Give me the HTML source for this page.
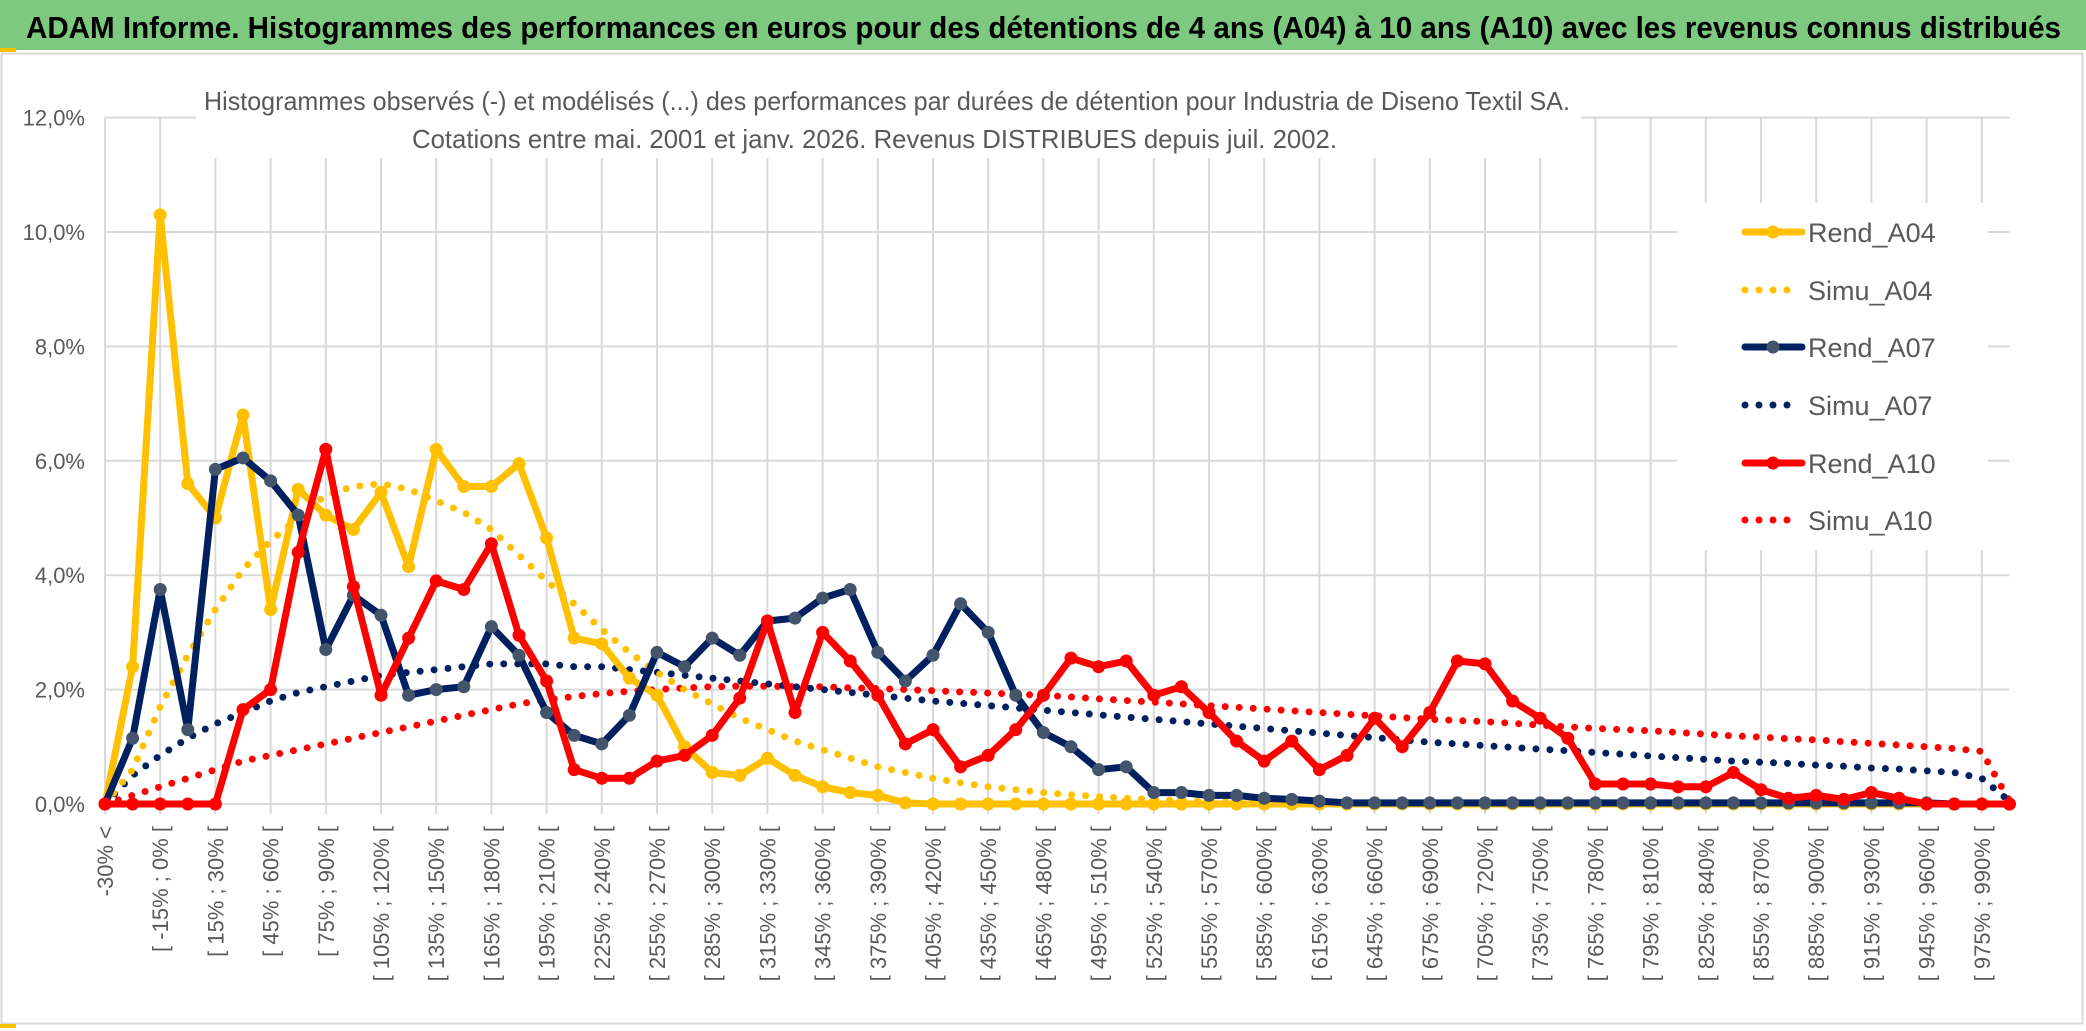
<!DOCTYPE html>
<html><head><meta charset="utf-8">
<style>
html,body{margin:0;padding:0;background:#fff;}
svg{display:block;font-family:"Liberation Sans",sans-serif;}
</style></head>
<body>
<svg id="chart" width="2086" height="1031" xmlns="http://www.w3.org/2000/svg">
  <rect x="0" y="0" width="2086" height="1031" fill="#fff"/>
  <rect x="0" y="0" width="2086" height="50" fill="#7DC97F"/>
  <rect x="0" y="48" width="16" height="4" fill="#FFC000"/>
  <text x="26" y="38" font-size="31" font-weight="bold" fill="#000" textLength="2035" lengthAdjust="spacingAndGlyphs">ADAM Informe. Histogrammes des performances en euros pour des détentions de 4 ans (A04) à 10 ans (A10) avec les revenus connus distribués</text>
  <rect x="1.5" y="53.5" width="2081" height="970" fill="none" stroke="#d9d9d9" stroke-width="2"/>
  <rect x="0" y="1024" width="16" height="4" fill="#FFC000"/>
  <g id="grid"></g>
  <rect x="196" y="78" width="1385" height="80" fill="#fff"/>
  <text x="204" y="110" font-size="26" fill="#595959" textLength="1366" lengthAdjust="spacingAndGlyphs">Histogrammes observés (-) et modélisés (...) des performances par durées de détention pour Industria de Diseno Textil SA.</text>
  <text x="412" y="148" font-size="26" fill="#595959" textLength="925" lengthAdjust="spacingAndGlyphs">Cotations entre mai. 2001 et janv. 2026. Revenus DISTRIBUES depuis juil. 2002.</text>
  <g id="axes"></g>
  <g id="series"></g>
  <g id="legend"></g>
</svg>
<script>
const categories = ["-30% <"];
for (let v = -30; v <= 990; v += 15) categories.push("[ " + v + "% ; " + (v + 15) + "% [");
// categories length = 70
const yTicks = ["0,0%","2,0%","4,0%","6,0%","8,0%","10,0%","12,0%"];
const yTickValues = [0,2,4,6,8,10,12];

const rendA04 = [0,2.4,10.3,5.6,5.0,6.8,3.4,5.5,5.05,4.8,5.45,4.15,6.2,5.55,5.55,5.95,4.65,2.9,2.8,2.2,1.9,1.0,0.55,0.5,0.8,0.5,0.3,0.2,0.15,0.02,0,0,0,0,0,0,0,0,0,0,0,0,0,0,0,0,0,0,0,0,0,0,0,0,0,0,0,0,0,0,0,0,0,0,0,0,0,0,0,0];
const simuA04 = [0,0.6,1.7,2.6,3.4,4.1,4.6,5.0,5.4,5.55,5.6,5.5,5.3,5.1,4.8,4.35,3.9,3.5,3.05,2.65,2.3,2.0,1.75,1.5,1.3,1.1,0.95,0.8,0.65,0.55,0.45,0.37,0.3,0.25,0.2,0.16,0.13,0.1,0.08,0.06,0.05,0.04,0.03,0.03,0.02,0.02,0.02,0.01,0.01,0.01,0.01,0.01,0.01,0,0,0,0,0,0,0,0,0,0,0,0,0,0,0,0,0];
const rendA07 = [0,1.15,3.75,1.3,5.85,6.05,5.65,5.05,2.7,3.65,3.3,1.9,2.0,2.05,3.1,2.6,1.6,1.2,1.05,1.55,2.65,2.4,2.9,2.6,3.2,3.25,3.6,3.75,2.65,2.15,2.6,3.5,3.0,1.9,1.25,1.0,0.6,0.65,0.2,0.2,0.15,0.15,0.1,0.08,0.05,0.02,0.02,0.02,0.02,0.02,0.02,0.02,0.02,0.02,0.02,0.02,0.02,0.02,0.02,0.02,0.02,0.02,0.02,0.02,0.02,0.02,0.02,0,0,0];
const simuA07 = [0,0.5,0.85,1.15,1.4,1.6,1.8,1.95,2.05,2.15,2.25,2.3,2.35,2.4,2.45,2.45,2.45,2.4,2.4,2.35,2.3,2.25,2.2,2.15,2.1,2.05,2.0,1.95,1.9,1.85,1.8,1.76,1.72,1.68,1.64,1.6,1.56,1.52,1.48,1.44,1.4,1.36,1.32,1.28,1.24,1.2,1.16,1.12,1.08,1.05,1.02,0.99,0.96,0.93,0.9,0.87,0.84,0.81,0.78,0.75,0.73,0.71,0.68,0.66,0.63,0.61,0.58,0.55,0.45,0.05];
const rendA10 = [0,0,0,0,0,1.65,2.0,4.4,6.2,3.8,1.9,2.9,3.9,3.75,4.55,2.95,2.15,0.6,0.45,0.45,0.75,0.85,1.2,1.85,3.2,1.6,3.0,2.5,1.9,1.05,1.3,0.65,0.85,1.3,1.9,2.55,2.4,2.5,1.9,2.05,1.6,1.1,0.75,1.1,0.6,0.85,1.5,1.0,1.6,2.5,2.45,1.8,1.5,1.15,0.35,0.35,0.35,0.3,0.3,0.55,0.25,0.1,0.15,0.08,0.2,0.1,0,0,0,0];
const simuA10 = [0,0.15,0.3,0.45,0.6,0.75,0.85,0.95,1.05,1.15,1.25,1.35,1.45,1.55,1.65,1.75,1.82,1.88,1.93,1.97,2.0,2.03,2.05,2.06,2.06,2.05,2.05,2.03,2.02,2.0,1.98,1.96,1.94,1.92,1.9,1.87,1.84,1.81,1.78,1.75,1.72,1.69,1.66,1.63,1.6,1.57,1.54,1.51,1.48,1.46,1.44,1.41,1.38,1.35,1.32,1.3,1.28,1.25,1.22,1.19,1.17,1.14,1.12,1.09,1.06,1.03,1.0,0.97,0.92,0.05];

const NS = "http://www.w3.org/2000/svg";
const X0 = 105, XSTEP = 27.6, Y0 = 804, YPER = 57.2;
function xScale(i){ return X0 + i * XSTEP; }
function yScale(v){ return Y0 - v * YPER; }
function mk(tag, attrs, parent){ const e = document.createElementNS(NS, tag); for (const k in attrs) e.setAttribute(k, attrs[k]); parent.appendChild(e); return e; }

const grid = document.getElementById('grid');
const axes = document.getElementById('axes');
const n = categories.length;
const xRight = xScale(n - 1);
yTickValues.forEach((v, k) => {
  const l = mk('line', {x1: X0, x2: xRight, y1: yScale(v), y2: yScale(v), stroke: '#d9d9d9', 'stroke-width': 2}, grid);
  
  
  const t = mk('text', {x: 85, y: yScale(v) + 8, 'font-size': 22, fill: '#595959', 'text-anchor': 'end'}, axes);
  t.textContent = yTicks[k];
  
  
});
for (let i = 0; i < n; i += 2) {
  const l = mk('line', {x1: xScale(i), x2: xScale(i), y1: yScale(12), y2: Y0 + 10, stroke: '#d9d9d9', 'stroke-width': 2}, grid);
  
  
  const t = mk('text', {x: 0, y: 0, 'font-size': 22, fill: '#595959', 'text-anchor': 'end', transform: 'translate(' + (xScale(i) + 8) + ',826) rotate(-90)'}, axes);
  t.textContent = categories[i];
  
  
}

const seriesG = document.getElementById('series');
function pathD(arr){ return arr.map((v, i) => (i ? 'L' : 'M') + xScale(i).toFixed(1) + ' ' + yScale(v).toFixed(1)).join(' '); }
function drawDotted(arr, color, name){
  const p = mk('path', {d: pathD(arr), fill: 'none', stroke: color, 'stroke-width': 7, 'stroke-linecap': 'round', 'stroke-dasharray': '0 14'}, seriesG);
  
  
}
function drawSolid(arr, color, mcolor, name){
  const g = mk('g', {}, seriesG);
  
  
  mk('path', {d: pathD(arr), fill: 'none', stroke: color, 'stroke-width': 7, 'stroke-linejoin': 'round', 'stroke-linecap': 'round'}, g);
  arr.forEach((v, i) => {
    const c = mk('circle', {cx: xScale(i), cy: yScale(v), r: 6.5, fill: mcolor}, g);
    
    
  });
}
drawDotted(simuA10, '#FF0000', 'simu-a10-line');
drawDotted(simuA07, '#002060', 'simu-a07-line');
drawDotted(simuA04, '#FFC000', 'simu-a04-line');
drawSolid(rendA04, '#FFC000', '#FFC000', 'rend-a04-line');
drawSolid(rendA07, '#002060', '#44546A', 'rend-a07-line');
drawSolid(rendA10, '#FF0000', '#FF0000', 'rend-a10-line');

const legend = document.getElementById('legend');
const lbg = mk('rect', {x: 1677, y: 203, width: 311, height: 347, fill: '#fff'}, legend);


const legNames = ['Rend_A04','Simu_A04','Rend_A07','Simu_A07','Rend_A10','Simu_A10'];
const legColors = ['#FFC000','#FFC000','#002060','#002060','#FF0000','#FF0000'];
const legMarker = ['#FFC000',null,'#44546A',null,'#FF0000',null];
const legY = [232,290,347,405,463,520];
legNames.forEach((nm, k) => {
  const g = mk('g', {}, legend);
  
  
  const y = legY[k];
  if (legMarker[k]) {
    mk('line', {x1: 1745, x2: 1802, y1: y, y2: y, stroke: legColors[k], 'stroke-width': 7, 'stroke-linecap': 'round'}, g);
    mk('circle', {cx: 1773, cy: y, r: 6.5, fill: legMarker[k]}, g);
  } else {
    mk('line', {x1: 1745, x2: 1800, y1: y, y2: y, stroke: legColors[k], 'stroke-width': 7, 'stroke-linecap': 'round', 'stroke-dasharray': '0 14'}, g);
  }
  const t = mk('text', {x: 1808, y: y + 10, 'font-size': 27, fill: '#595959'}, g);
  t.textContent = nm;
});
</script>
</body></html>
